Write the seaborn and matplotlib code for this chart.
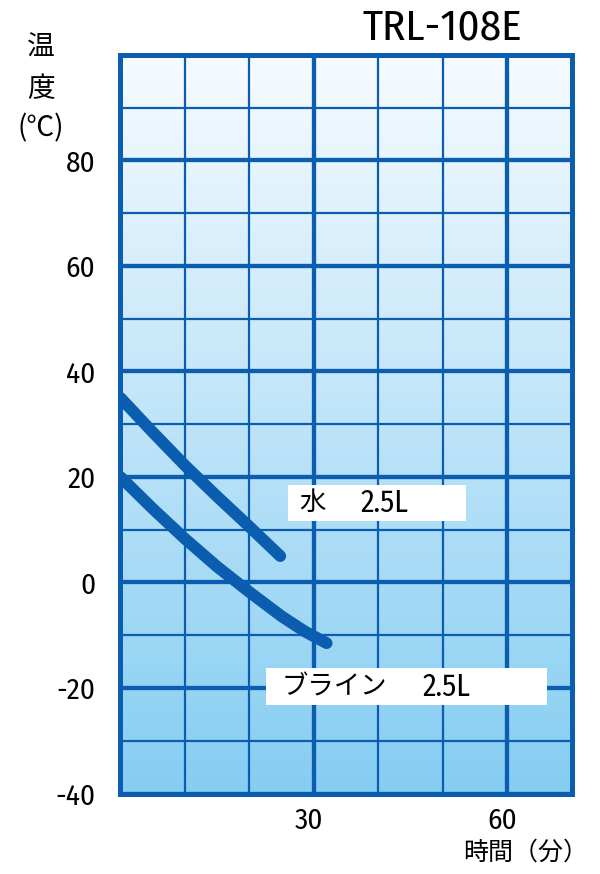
import numpy as np
import pandas as pd
import matplotlib
matplotlib.use("Agg")
import matplotlib.pyplot as plt
import matplotlib.transforms as mtransforms
from matplotlib.colors import LinearSegmentedColormap
from matplotlib.patches import Rectangle
import seaborn as sns

# chart data
water_t = [0, 5, 10, 15, 20, 24.8]
water_temp = [35.0, 28.5, 22.2, 16.3, 10.6, 5.0]
brine_t = [0, 5, 10, 15, 20, 25, 28.5, 32]
brine_temp = [20.0, 14.0, 8.3, 3.0, -1.8, -6.4, -9.2, -11.5]

title = "TRL-108E"
water_label = ("水", "2.5L")
brine_label = ("ブライン", "2.5L")
x_ticks = [30, 60]
y_ticks = [-40, -20, 0, 20, 40, 60, 80]

BLUE = "#0b5daf"
NARROW = ["Fira Sans Condensed", "DejaVu Sans"]
CJK = ["Noto Sans CJK JP", "DejaVu Sans"]

sns.set_style("white")
plt.rcParams["font.family"] = NARROW
plt.rcParams["axes.unicode_minus"] = False
plt.rcParams["text.color"] = "black"
plt.rcParams["xtick.color"] = "black"
plt.rcParams["ytick.color"] = "black"

df = pd.concat([
    pd.DataFrame({"t": water_t, "temp": water_temp, "s": "water"}),
    pd.DataFrame({"t": brine_t, "temp": brine_temp, "s": "brine"}),
])

fig = plt.figure(figsize=(6, 8.74), dpi=100)
ax = fig.add_axes([0.2008, 0.0921, 0.7517, 0.845])

# gradient background
cmap = LinearSegmentedColormap.from_list("bg", ["#f7fbff", "#85cdf2"])
grad = np.linspace(0, 1, 256).reshape(-1, 1)
ax.imshow(grad, extent=[0, 70, -40, 100], aspect="auto", cmap=cmap,
          origin="upper", zorder=0)

# white label boxes
ax.add_patch(Rectangle((26.0, 11.7), 27.6, 6.7, facecolor="white",
                       edgecolor="none", zorder=2))
ax.add_patch(Rectangle((22.6, -23.3), 43.6, 7.0, facecolor="white",
                       edgecolor="none", zorder=2))

sns.lineplot(data=df, x="t", y="temp", hue="s", palette=[BLUE, BLUE],
             sort=False, legend=False, linewidth=8.5, ax=ax, zorder=3,
             solid_capstyle="round", solid_joinstyle="round")

ax.set_xlim(0, 70)
ax.set_ylim(-40, 100)
ax.set_xticks(x_ticks)
ax.set_xticks(np.arange(10, 70, 10), minor=True)
ax.set_yticks(y_ticks)
ax.set_yticks(np.arange(-30, 100, 10), minor=True)
ax.grid(which="major", color=BLUE, linewidth=3.1, zorder=1)
ax.grid(which="minor", color=BLUE, linewidth=1.6, zorder=1)
ax.set_axisbelow(True)
ax.tick_params(which="both", length=0)
ax.tick_params(axis="y", pad=18, labelsize=21)
ax.tick_params(axis="x", pad=9, labelsize=21)
ax.set_xlabel("")
ax.set_ylabel("")
for lab in ax.get_xticklabels():
    lab.set_transform(lab.get_transform() +
                      mtransforms.ScaledTranslation(-5 / 100, 0, fig.dpi_scale_trans))
for sp in ax.spines.values():
    sp.set_visible(True)
    sp.set_color(BLUE)
    sp.set_linewidth(3.6)
    sp.set_zorder(4)

# label texts
ax.text(27.7, 15.1, water_label[0], family=CJK, fontsize=19,
        va="center", ha="left", zorder=5)
ax.text(37.3, 15.1, water_label[1], fontsize=22, va="center", ha="left", zorder=5)
ax.text(25.0, -19.8, brine_label[0], family=CJK, fontsize=19,
        va="center", ha="left", zorder=5)
ax.text(46.8, -19.8, brine_label[1], fontsize=22, va="center", ha="left", zorder=5)

# title and axis titles
fig.text(442 / 600, 1 - 28 / 874, title, fontsize=31, ha="center", va="center")
fig.text(41 / 600, 1 - 48 / 874, "温", family=CJK, fontsize=20, ha="center", va="center")
fig.text(41 / 600, 1 - 89 / 874, "度", family=CJK, fontsize=20, ha="center", va="center")
fig.text(41 / 600, 1 - 128 / 874, "(℃)", family=CJK, fontsize=20, ha="center", va="center")
fig.text(588 / 600, 1 - 853 / 874, "時間（分）", family=CJK, fontsize=18,
         ha="right", va="center")

fig.savefig("out.png", dpi=100)
